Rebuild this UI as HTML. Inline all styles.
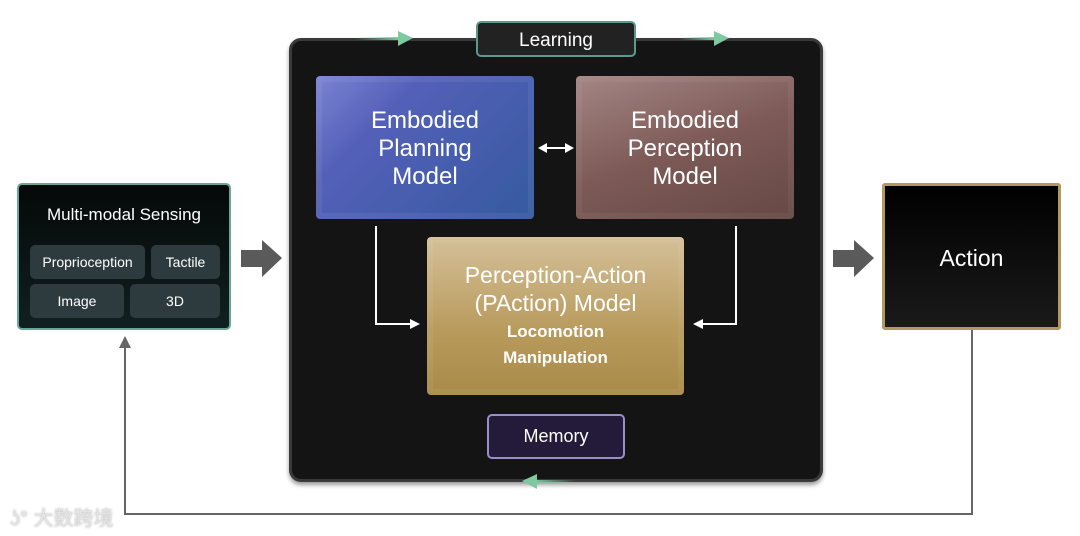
<!DOCTYPE html>
<html><head><meta charset="utf-8"><style>
body{margin:0;width:1080px;height:536px;background:#fff;position:relative;overflow:hidden;font-family:"Liberation Sans","Noto Sans CJK SC",sans-serif;color:#fff}
.a{position:absolute;box-sizing:border-box}
.c{display:flex;align-items:center;justify-content:center;text-align:center}
</style></head><body>
<svg class="a" style="left:0;top:0" width="1080" height="536">
<polyline points="972,330 972,514 125,514 125,344" fill="none" stroke="#666" stroke-width="2"/>
<polygon points="125,336 119,348 131,348" fill="#666"/>
</svg>
<div class="a" style="left:289px;top:38px;width:534px;height:444px;background:#141414;border-radius:12px;border:3px solid #3a3a3a;box-shadow:0 3px 4px rgba(0,0,0,.4)"></div>
<svg class="a" style="left:0;top:0" width="1080" height="536">
<defs><linearGradient id="g1"><stop offset="0" stop-color="#7fc9a0" stop-opacity="0"/><stop offset="1" stop-color="#7fc9a0"/></linearGradient>
<linearGradient id="g2"><stop offset="0" stop-color="#7fc9a0"/><stop offset="1" stop-color="#7fc9a0" stop-opacity="0"/></linearGradient></defs>
<rect x="355" y="37" width="45" height="3" fill="url(#g1)"/><polygon points="398,31 413,38 398,46" fill="#7fc9a0"/>
<rect x="680" y="37" width="35" height="3" fill="url(#g1)"/><polygon points="714,31 729,38 714,46" fill="#7fc9a0"/>
<rect x="535" y="480" width="40" height="3" fill="url(#g2)"/><polygon points="537,474 522,481 537,489" fill="#7fc9a0"/>
<polyline points="376,226 376,324 412,324" fill="none" stroke="#fff" stroke-width="2"/><polygon points="420,324 410,319 410,329" fill="#fff"/>
<polyline points="736,226 736,324 702,324" fill="none" stroke="#fff" stroke-width="2"/><polygon points="693,324 703,319 703,329" fill="#fff"/>
<line x1="546" y1="148" x2="566" y2="148" stroke="#fff" stroke-width="2"/>
<polygon points="538,148 547,143 547,153" fill="#fff"/><polygon points="574,148 565,143 565,153" fill="#fff"/>
<polygon points="241,250 262,250 262,240 282,258 262,277 262,267 241,267" fill="#5a5a5a"/>
<polygon points="833,250 854,250 854,240 874,258 854,277 854,267 833,267" fill="#5a5a5a"/>
</svg>
<div class="a c" style="left:476px;top:21px;width:160px;height:36px;background:#222;border:2px solid #5a9a8e;border-radius:5px;font-size:19px;padding-top:3px">Learning</div>
<div class="a c" style="left:316px;top:76px;width:218px;height:143px;background:linear-gradient(135deg,#7b84d4,#5460b8 30%,#355aa0);border-radius:4px;font-size:24px;line-height:28px;box-shadow:inset 0 0 0 6px rgba(255,255,255,.06);padding-top:2px">Embodied<br>Planning<br>Model</div>
<div class="a c" style="left:576px;top:76px;width:218px;height:143px;background:linear-gradient(160deg,#a48684,#7d5a57 50%,#664844);border-radius:4px;font-size:24px;line-height:28px;box-shadow:inset 0 0 0 6px rgba(255,255,255,.05);padding-top:2px">Embodied<br>Perception<br>Model</div>
<div class="a c" style="left:427px;top:237px;width:257px;height:158px;background:linear-gradient(180deg,#d4c098,#b89a5c 60%,#a88a48);border-radius:4px;flex-direction:column;box-shadow:inset 0 0 0 6px rgba(255,255,255,.06)">
<div style="font-size:23px;line-height:28px">Perception-Action<br>(PAction) Model</div>
<div style="font-size:17px;font-weight:bold;line-height:26px;margin-top:2px">Locomotion<br>Manipulation</div></div>
<div class="a c" style="left:487px;top:414px;width:138px;height:45px;background:#241a3a;border:2px solid #9a90c8;border-radius:5px;font-size:18px">Memory</div>
<div class="a" style="left:17px;top:183px;width:214px;height:147px;background:linear-gradient(#050808,#102020);border:2px solid #6aa59a;border-radius:5px">
<div style="position:absolute;left:0;right:0;top:20px;text-align:center;font-size:17px">Multi-modal Sensing</div>
<div class="a c" style="left:11px;top:60px;width:115px;height:34px;background:#2d3b3e;border-radius:5px;font-size:14px">Proprioception</div>
<div class="a c" style="left:132px;top:60px;width:69px;height:34px;background:#2d3b3e;border-radius:5px;font-size:14px">Tactile</div>
<div class="a c" style="left:11px;top:99px;width:94px;height:34px;background:#2d3b3e;border-radius:5px;font-size:14px">Image</div>
<div class="a c" style="left:111px;top:99px;width:90px;height:34px;background:#2d3b3e;border-radius:5px;font-size:14px">3D</div>
</div>
<div class="a c" style="left:882px;top:183px;width:179px;height:147px;background:linear-gradient(#000,#1a1a1a);border:3px solid #b09a60;border-radius:3px;font-size:23px;padding-top:3px">Action</div>
<div class="a" style="left:10px;top:502px;font-size:20px;color:#e4e4e4;text-shadow:0 0 2px #aaa">ʖ° 大数跨境</div>
</body></html>
